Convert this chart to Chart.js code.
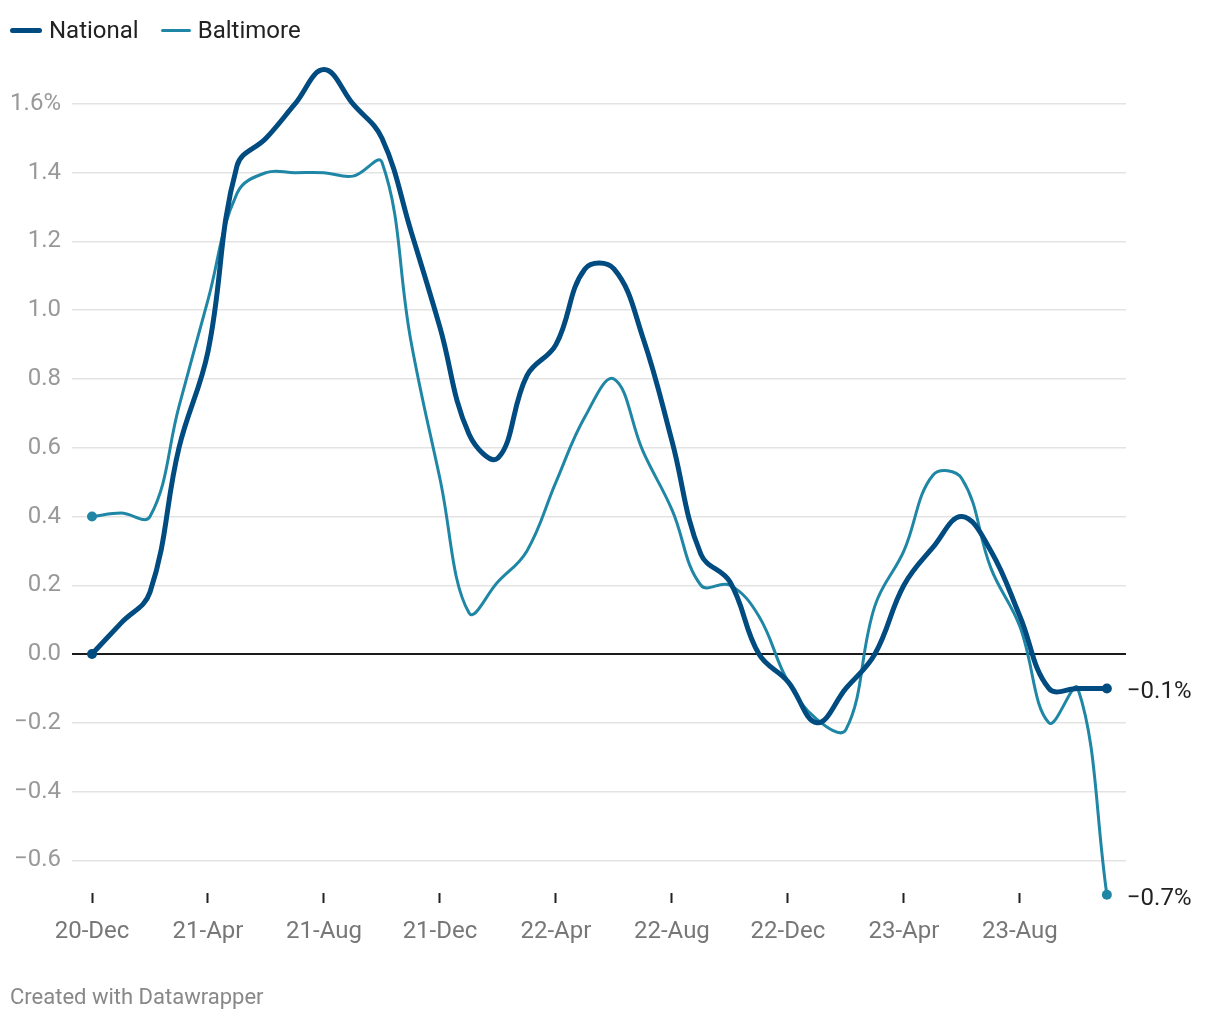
<!DOCTYPE html>
<html>
<head>
<meta charset="utf-8">
<script src="https://cdn.jsdelivr.net/npm/chart.js@4"></script>
<style>
  html, body { margin: 0; padding: 0; background: #fff; }
  body { width: 1220px; height: 1020px; position: relative; font-family: Roboto, sans-serif; }
  #wrap { position: absolute; left: 0; top: 0; width: 1220px; height: 1020px; }
  .legend { position: absolute; top: 16px; left: 10px; display: flex; align-items: center; font-size: 24px; line-height: 28px; color: #222; }
  .legend .item { display: flex; align-items: center; margin-right: 22px; }
  .legend .swatch { display: inline-block; border-radius: 3px; margin-right: 7px; }
  .credit { position: absolute; left: 10px; top: 984px; font-size: 22px; line-height: 26px; color: #888; }
</style>
</head>
<body>
<div id="wrap"><canvas id="chart" width="1220" height="1020"></canvas></div>
<div class="legend">
  <div class="item"><span class="swatch" style="width:32px;height:5px;background:#004b80"></span>National</div>
  <div class="item"><span class="swatch" style="width:30px;height:3px;background:#1f87a5"></span>Baltimore</div>
</div>
<div class="credit">Created with Datawrapper</div>
<script>
// monthly categories, Dec 2020 to Nov 2023
const months = [
  "20-Dec", "21-Jan", "21-Feb", "21-Mar", "21-Apr", "21-May", "21-Jun", "21-Jul",
  "21-Aug", "21-Sep", "21-Oct", "21-Nov", "21-Dec", "22-Jan", "22-Feb", "22-Mar",
  "22-Apr", "22-May", "22-Jun", "22-Jul", "22-Aug", "22-Sep", "22-Oct", "22-Nov",
  "22-Dec", "23-Jan", "23-Feb", "23-Mar", "23-Apr", "23-May", "23-Jun", "23-Jul",
  "23-Aug", "23-Sep", "23-Oct", "23-Nov",
];

const national = [
  0.0, 0.09, 0.18, 0.6, 0.88, 1.42, 1.5, 1.6,
  1.7, 1.6, 1.5, 1.23, 0.95, 0.64, 0.57, 0.81,
  0.9, 1.12, 1.12, 0.92, 0.62, 0.29, 0.21, 0.0,
  -0.08, -0.2, -0.1, 0.0, 0.2, 0.31, 0.4, 0.3,
  0.11, -0.1, -0.1, -0.1,
];

const baltimore = [
  0.4, 0.41, 0.4, 0.72, 1.03, 1.34, 1.4, 1.4,
  1.4, 1.39, 1.43, 0.91, 0.51, 0.12, 0.21, 0.3,
  0.5, 0.69, 0.8, 0.59, 0.42, 0.2, 0.2, 0.11,
  -0.08, -0.19, -0.22, 0.14, 0.3, 0.52, 0.51, 0.25,
  0.08, -0.2, -0.1, -0.7,
];

const xTickIndexes = [0, 4, 8, 12, 16, 20, 24, 28, 32];
const yTicks = [-0.6, -0.4, -0.2, 0, 0.2, 0.4, 0.6, 0.8, 1.0, 1.2, 1.4, 1.6];

function fmt(v, digits) {
  const s = Math.abs(v).toFixed(digits);
  return (v < -0.0001 ? "\u2212" : "") + s;
}

function endDots(arr) {
  return arr.map((_, i) => (i === 0 || i === arr.length - 1 ? 5 : 0));
}

// value labels at the right end of each line
const endLabels = {
  id: "endLabels",
  afterDatasetsDraw(chart) {
    const ctx = chart.ctx;
    ctx.save();
    ctx.font = "24px Roboto";
    ctx.fillStyle = "#222";
    ctx.textBaseline = "middle";
    chart.data.datasets.forEach((ds, i) => {
      const meta = chart.getDatasetMeta(i);
      const last = meta.data[meta.data.length - 1];
      const v = ds.data[ds.data.length - 1].y;
      ctx.fillText(fmt(v, 1) + "%", last.x + 20, last.y + 4);
    });
    ctx.restore();
  },
};

const ctx = document.getElementById("chart");

new Chart(ctx, {
  type: "line",
  data: {
    datasets: [
      {
        label: "National",
        data: national.map((v, i) => ({ x: i, y: v })),
        borderColor: "#004b80",
        backgroundColor: "#004b80",
        borderWidth: 5,
        pointRadius: endDots(national),
        pointBorderWidth: 0,
        tension: 0.4,
        borderCapStyle: "round",
        borderJoinStyle: "round",
        clip: false,
        order: 0,
      },
      {
        label: "Baltimore",
        data: baltimore.map((v, i) => ({ x: i, y: v })),
        borderColor: "#1f87a5",
        backgroundColor: "#1f87a5",
        borderWidth: 3,
        pointRadius: endDots(baltimore),
        pointBorderWidth: 0,
        tension: 0.4,
        borderCapStyle: "round",
        clip: false,
        order: 1,
      },
    ],
  },
  options: {
    responsive: false,
    animation: false,
    layout: { padding: { top: 52, right: 94, bottom: 67, left: 0 } },
    plugins: {
      legend: { display: false },
      tooltip: { enabled: false },
    },
    scales: {
      x: {
        type: "linear",
        min: -0.69,
        max: 35.66,
        afterBuildTicks: (scale) => {
          scale.ticks = xTickIndexes.map((v) => ({ value: v }));
        },
        afterFit: (scale) => {
          scale.height = 60;
        },
        border: { display: false },
        grid: {
          drawOnChartArea: false,
          drawTicks: true,
          tickLength: 10,
          tickWidth: 2,
          tickColor: "#222",
        },
        ticks: {
          padding: 15,
          color: "#777",
          font: { family: "Roboto", size: 24 },
          maxRotation: 0,
          callback: (v) => months[v],
        },
      },
      y: {
        min: -0.695,
        max: 1.751,
        afterBuildTicks: (scale) => {
          scale.ticks = yTicks.map((v) => ({ value: v }));
        },
        afterFit: (scale) => {
          scale.width = 72;
        },
        border: { display: false },
        grid: {
          drawTicks: false,
          lineWidth: (c) => (Math.abs(c.tick.value) < 0.001 ? 2 : 1.5),
          color: (c) => (Math.abs(c.tick.value) < 0.001 ? "#1a1a1a" : "#e3e3e3"),
        },
        ticks: {
          padding: 11,
          color: "#999",
          font: { family: "Roboto", size: 24 },
          callback: (v) => (Math.abs(v - 1.6) < 0.001 ? "1.6%" : fmt(v, 1)),
        },
      },
    },
  },
  plugins: [endLabels],
});
</script>
</body>
</html>
